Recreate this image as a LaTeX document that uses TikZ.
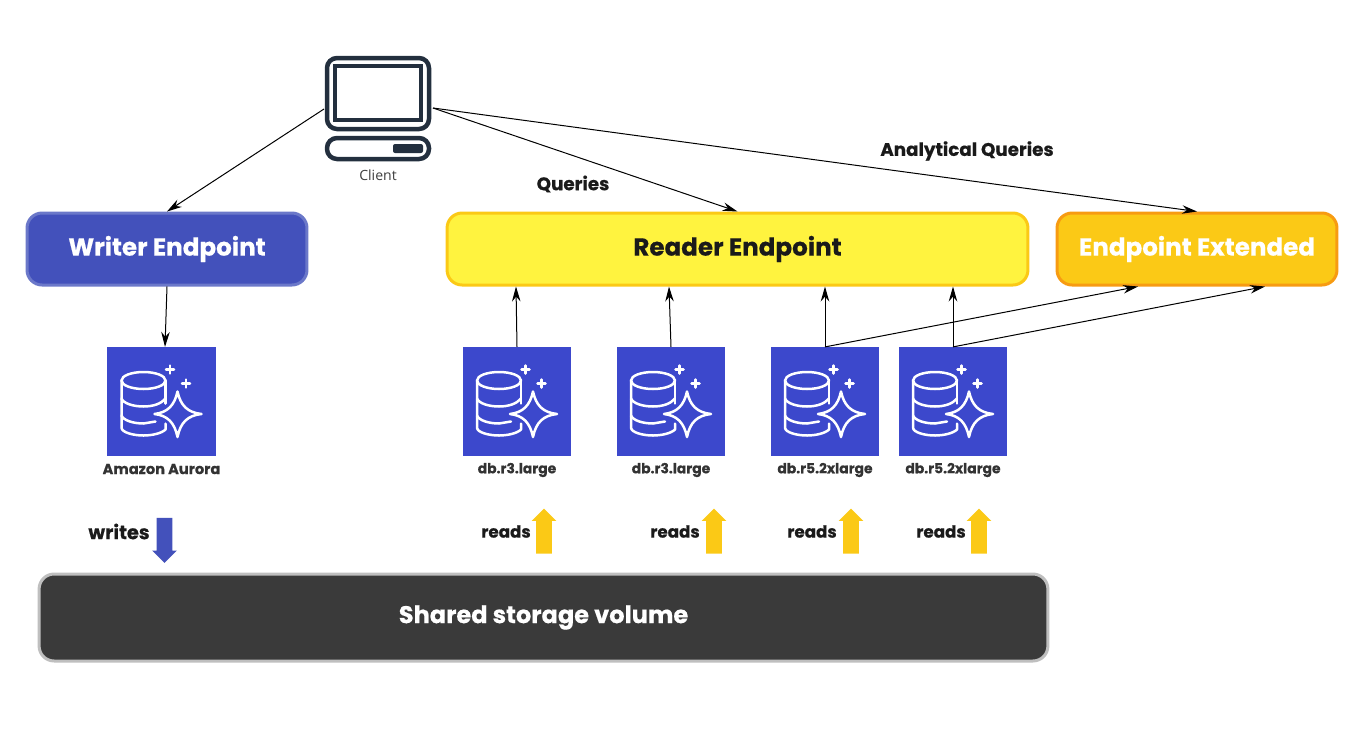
\documentclass[tikz,border=0pt]{standalone}
\usepackage{fontspec}
\setmainfont{Poppins}[BoldFeatures={FakeBold=0.5}]
\newfontfamily\clientfont{Open Sans}
\usetikzlibrary{positioning,arrows.meta,shapes.arrows}
\definecolor{writerblue}{HTML}{4351BB}
\definecolor{writerline}{HTML}{6B78C9}
\definecolor{readeryellow}{HTML}{FFF33F}
\definecolor{amber}{HTML}{FBC916}
\definecolor{amberline}{HTML}{F79B12}
\definecolor{storagegrey}{HTML}{3A3A3A}
\definecolor{storageline}{HTML}{BFBFBF}
\definecolor{dbblue}{HTML}{3C48CC}
\definecolor{clientnavy}{HTML}{232F3E}
\definecolor{textblack}{HTML}{1A1A1A}

\begin{document}
\begin{tikzpicture}[
  x=0.02cm, y=-0.02cm,
  endpt/.style={rectangle, rounded corners=0.3cm, line width=0.06cm, minimum height=1.44cm, font=\fontsize{14}{16}\selectfont\bfseries},
  dbv/.style={rectangle, fill=dbblue, minimum size=2.17cm, inner sep=0pt},
  lbl/.style={font=\fontsize{10.4}{12}\selectfont\bfseries, text=textblack, inner sep=1pt},
  rdlbl/.style={font=\fontsize{9.5}{12}\selectfont\bfseries, text=textblack, inner sep=1pt},
  dblbl/.style={font=\fontsize{7.9}{9}\selectfont\bfseries, text=black!80, inner sep=1pt},
  flow/.style={draw=black, line width=0.02cm, -{Stealth[length=0.3cm, width=0.17cm]}},
  blockarrow/.style={single arrow, shape border rotate=#1, minimum height=0.9cm, minimum width=0.48cm, single arrow head extend=0.09cm, inner sep=0.15cm, draw=none},
  dbline/.style={draw=white, line width=0.05cm, line join=round, line cap=round},
  dbstar/.pic={
    \draw[dbline] (-18,-21) ellipse [x radius=22, y radius=8.5];
    \draw[dbline] (-40,-21) -- (-40,26) .. controls (-40,31) and (-28,34) .. (-18,34) .. controls (-10,34) and (0,32) .. (4,28) -- (4,22);
    \draw[dbline] (-40,-3) .. controls (-38,2) and (-28,5) .. (-18,5) .. controls (-8,5) and (0,2) .. (4,-3);
    \draw[dbline] (-40,14) .. controls (-38,19) and (-28,22) .. (-18,22) -- (-6,20);
    \draw[dbline] (4,-21) -- (4,2);
    \draw[dbline] (16,-10) .. controls (19,4) and (26,11) .. (40,12.5) .. controls (26,14) and (19,21) .. (16,35.5) .. controls (13,21) and (6,14) .. (-7,12.5) .. controls (6,11) and (13,4) .. (16,-10) -- cycle;
    \draw[dbline] (4.5,-32) -- (12.5,-32) (8.5,-36) -- (8.5,-28);
    \draw[dbline] (20.5,-18) -- (28.5,-18) (24.5,-22) -- (24.5,-14);
  }
]
\useasboundingbox (0,0) rectangle (1367,731);

% client icon
\node[inner sep=0pt, minimum width=2.12cm, minimum height=2.08cm] (nclient) at (378,108) {};
\draw[clientnavy, line width=0.09cm, rounded corners=0.2cm] (327,58) rectangle (429,129);
\draw[clientnavy, line width=0.09cm] (335,66) rectangle (421,120);
\draw[clientnavy, line width=0.09cm, rounded corners=0.2cm] (327,138) rectangle (429,159);
\fill[clientnavy, rounded corners=0.04cm] (393,144) rectangle (423,153);
\node[font=\fontsize{8}{10}\selectfont\clientfont, text=black!75, inner sep=1pt] (lclient) at (378,175.5) {Client};

\node[endpt, draw=writerline, fill=writerblue, text=white, minimum width=5.6cm] (nwriter) at (167,249) {\raisebox{-0.7pt}{Writer Endpoint}};
\node[endpt, draw=amber, fill=readeryellow, text=textblack, minimum width=11.62cm] (nreader) at (737.5,249) {\raisebox{-0.7pt}{Reader Endpoint}};
\node[endpt, draw=amberline, fill=amber, text=white, minimum width=5.6cm] (nextended) at (1197,249) {\raisebox{-0.7pt}{Endpoint Extended}};
\node[endpt, draw=storageline, fill=storagegrey, text=white, minimum width=20.18cm, minimum height=1.74cm, font=\fontsize{13.7}{16}\selectfont\bfseries] (nstorage) at (543.5,617.5) {\raisebox{-0.7pt}{Shared storage volume}};

\node[dbv] (ndbau) at (161.5,401.5) {};
\node[dbv] (ndba) at (517,401.5) {};
\node[dbv] (ndbb) at (671,401.5) {};
\node[dbv] (ndbc) at (825,401.5) {};
\node[dbv] (ndbd) at (953,401.5) {};
\pic at (ndbau.center) {dbstar};
\pic at (ndba.center) {dbstar};
\pic at (ndbb.center) {dbstar};
\pic at (ndbc.center) {dbstar};
\pic at (ndbd.center) {dbstar};

\node[dblbl, font=\fontsize{8.3}{9}\selectfont\bfseries] (lau) at (161.5,469) {Amazon Aurora};
\node[dblbl] (la) at (517,470) {db.r3.large};
\node[dblbl] (lb) at (671,470) {db.r3.large};
\node[dblbl] (lc) at (825,470) {db.r5.2xlarge};
\node[dblbl] (ld) at (953,470) {db.r5.2xlarge};

\coordinate (cleft) at (324,109);
\coordinate (cright) at (433,108);
\draw[flow] (cleft) -- (nwriter.north);
\draw[flow] (cright) -- (nreader.north);
\draw[flow] (cright) -- (nextended.north);
\draw[flow] (nwriter.south) -- ([xshift=0.07cm]ndbau.north);
\draw[flow] (ndba.north) -- ([xshift=-0.02cm]ndba.north |- nreader.south);
\draw[flow] (ndbb.north) -- ([xshift=-0.04cm]ndbb.north |- nreader.south);
\draw[flow] (ndbc.north) -- (ndbc.north |- nreader.south);
\draw[flow] (ndbd.north) -- (ndbd.north |- nreader.south);
\draw[flow] (ndbc.north) -- ([xshift=-1.18cm]nextended.south);
\draw[flow] (ndbd.north) -- ([xshift=1.36cm]nextended.south);

\node[lbl] (lqueries) at (573,184) {Queries};
\node[lbl] (lanalytic) at (967,151) {Analytical Queries};

\node[blockarrow=270, fill=writerblue] (awrites) at (164.5,536.5) {};
\node[blockarrow=90, fill=amber] (aa) at (544,535) {};
\node[blockarrow=90, fill=amber] (ab) at (714,535) {};
\node[blockarrow=90, fill=amber] (ac) at (851,535) {};
\node[blockarrow=90, fill=amber] (ad) at (979,535) {};
\node[lbl, font=\fontsize{11}{12}\selectfont\bfseries] (lwrites) at (119,531.5) {writes};
\node[rdlbl] (lra) at (506,531.5) {reads};
\node[rdlbl] (lrb) at (675,531.5) {reads};
\node[rdlbl] (lrc) at (812,531.5) {reads};
\node[rdlbl] (lrd) at (941,531.5) {reads};

\end{tikzpicture}
\end{document}
